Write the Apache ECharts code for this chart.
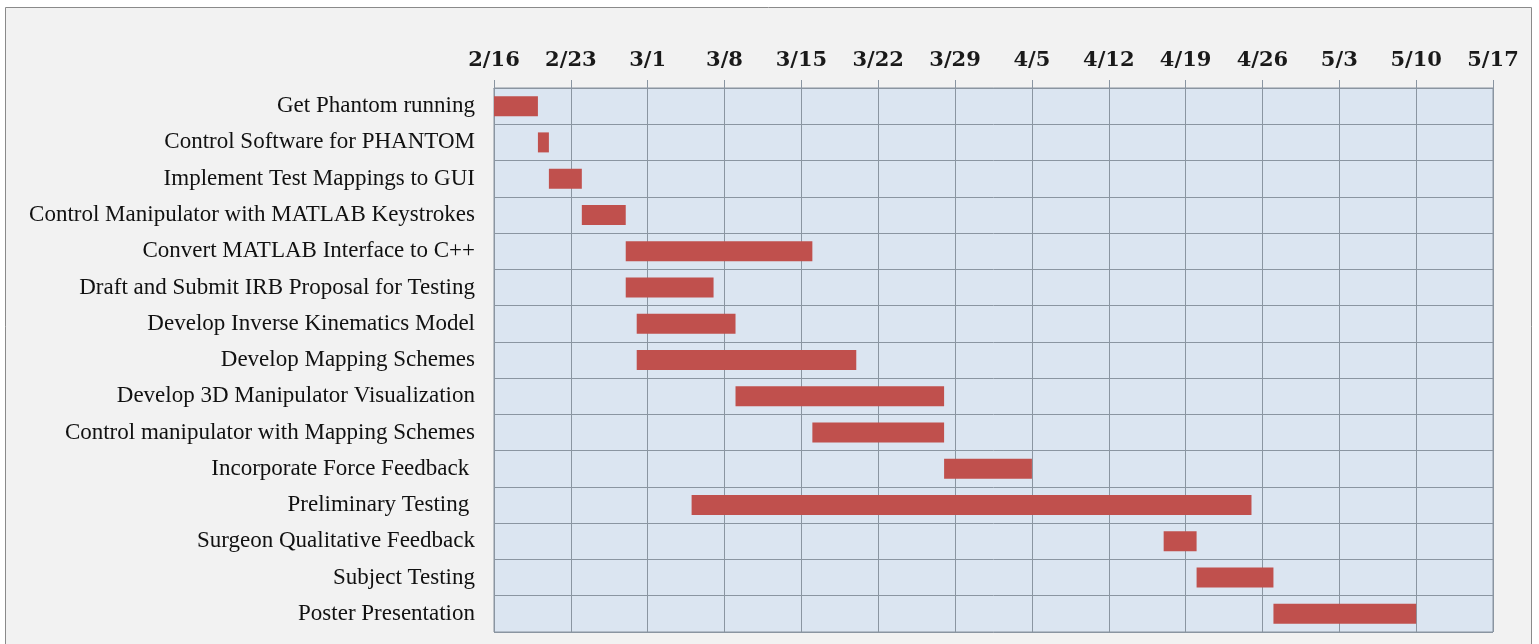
<!DOCTYPE html>
<html>
<head>
<meta charset="utf-8">
<script src="https://cdn.jsdelivr.net/npm/echarts@6/dist/echarts.min.js"></script>
<style>
html,body{margin:0;padding:0;background:#ffffff;}
#chart{width:1539px;height:644px;}
</style>
</head>
<body>
<div id="chart"></div>
<script>
// Tasks (top to bottom)
const tasks = [
  'Get Phantom running',
  'Control Software for PHANTOM',
  'Implement Test Mappings to GUI',
  'Control Manipulator with MATLAB Keystrokes',
  'Convert MATLAB Interface to C++',
  'Draft and Submit IRB Proposal for Testing',
  'Develop Inverse Kinematics Model',
  'Develop Mapping Schemes',
  'Develop 3D Manipulator Visualization',
  'Control manipulator with Mapping Schemes',
  'Incorporate Force Feedback ',
  'Preliminary Testing ',
  'Surgeon Qualitative Feedback',
  'Subject Testing',
  'Poster Presentation'
];
// Start / end in days after 2/16
const startDay = [0, 4, 5, 8, 12, 12, 13, 13, 22, 29, 41, 18, 61, 64, 71];
const endDay   = [4, 5, 8, 12, 29, 20, 22, 33, 41, 41, 49, 69, 64, 71, 84];
// Weekly tick labels
const tickLabels = ['2/16','2/23','3/1','3/8','3/15','3/22','3/29','4/5','4/12','4/19','4/26','5/3','5/10','5/17'];

const duration = startDay.map((s, i) => endDay[i] - s);
const gridColor = '#8a95a1';

const chart = echarts.init(document.getElementById('chart'));
chart.setOption({
  backgroundColor: '#ffffff',
  animation: false,
  graphic: [{
    type: 'rect',
    shape: {x: 5.5, y: 7.5, width: 1526, height: 660},
    style: {fill: '#f2f2f2', stroke: '#8a8a8a', lineWidth: 1},
    z: -10
  }],
  grid: {
    left: 494, right: 46, top: 88, bottom: 12,
    show: true, backgroundColor: '#dbe5f1', borderColor: gridColor, borderWidth: 1
  },
  xAxis: {
    type: 'value', position: 'top', min: 0, max: 91, interval: 7,
    axisLine: {show: true, lineStyle: {color: gridColor}},
    axisTick: {show: true, length: 8, lineStyle: {color: gridColor}},
    splitLine: {show: true, lineStyle: {color: gridColor, width: 1}},
    axisLabel: {
      margin: 17, color: '#1a1a1a', fontFamily: 'DejaVu Serif', fontWeight: 'bold', fontSize: 21,
      formatter: v => tickLabels[Math.round(v / 7)]
    }
  },
  yAxis: {
    type: 'category', data: tasks, inverse: true,
    axisLine: {show: false}, axisTick: {show: false},
    splitLine: {show: true, lineStyle: {color: gridColor, width: 1}},
    axisLabel: {margin: 19, color: '#111', fontFamily: 'Liberation Serif', fontSize: 23}
  },
  series: [
    {
      type: 'bar', stack: 'g', data: startDay, barWidth: 20,
      itemStyle: {color: 'transparent'}, silent: true
    },
    {
      type: 'bar', stack: 'g', data: duration, barWidth: 20,
      itemStyle: {color: '#c0504d'}
    }
  ]
});
</script>
</body>
</html>
